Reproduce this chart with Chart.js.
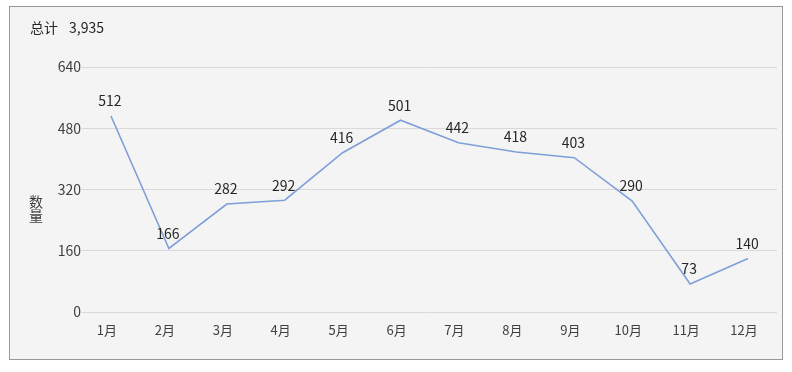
<!DOCTYPE html>
<html lang="zh">
<head>
  <meta charset="UTF-8">
  <title>月度数量</title>
  <script src="https://cdn.jsdelivr.net/npm/chart.js"></script>
  <style>
    body {
      margin: 0;
      background: #ffffff;
      font-family: 'Noto Sans CJK SC', 'Noto Sans', sans-serif;
    }
    .frame {
      position: absolute;
      left: 9px;
      top: 6px;
      width: 772px;
      height: 352px;
      border: 1px solid #9a9a9a;
      background: #f4f4f4;
    }
  </style>
</head>
<body>
  <div class="frame">
    <canvas id="lineChart" width="772" height="352"></canvas>
  </div>

  <script>
    const months = ['1月', '2月', '3月', '4月', '5月', '6月', '7月', '8月', '9月', '10月', '11月', '12月'];
    const counts = [512, 166, 282, 292, 416, 501, 442, 418, 403, 290, 73, 140];
    const yTicks = [0, 160, 320, 480, 640];
    const totalLabel = '总计';
    const yTitle = ['数', '量'];

    const total = counts.reduce((a, b) => a + b, 0);
    const FONT = "'Noto Sans CJK SC', 'Noto Sans', sans-serif";

    // value labels above each point + header text
    const extras = {
      id: 'extras',
      afterDatasetsDraw(chart) {
        const ctx = chart.ctx;
        const meta = chart.getDatasetMeta(0);
        ctx.save();
        ctx.font = '14px ' + FONT;
        ctx.fillStyle = '#262626';
        ctx.textAlign = 'center';
        ctx.textBaseline = 'middle';
        meta.data.forEach((pt, i) => {
          ctx.fillText(String(counts[i]), pt.x - 1, pt.y - 15);
        });

        ctx.textAlign = 'left';
        ctx.fillText(totalLabel, 20, 21);
        ctx.fillText(total.toLocaleString('en-US'), 59, 21);

        ctx.font = '14px ' + FONT;
        ctx.fillStyle = '#404040';
        ctx.textAlign = 'center';
        yTitle.forEach((ch, i) => {
          ctx.fillText(ch, 26, 195 + i * 14);
        });
        ctx.restore();
      }
    };

    new Chart(document.getElementById('lineChart'), {
      type: 'line',
      data: {
        labels: months,
        datasets: [{
          data: counts,
          borderColor: '#7f9fd8',
          borderWidth: 1.6,
          pointRadius: 0,
          tension: 0,
          fill: false
        }]
      },
      options: {
        responsive: false,
        animation: false,
        devicePixelRatio: 1,
        layout: { padding: { left: 0, top: 60, right: 5, bottom: 0 } },
        plugins: {
          legend: { display: false },
          tooltip: { enabled: false }
        },
        scales: {
          x: {
            offset: true,
            grid: { display: false },
            border: { display: false },
            ticks: {
              color: '#404040',
              font: { size: 13, family: FONT },
              padding: 2,
              labelOffset: -4,
              maxRotation: 0
            },
            afterFit(axis) { axis.height = 47; }
          },
          y: {
            min: 0,
            max: 640,
            afterBuildTicks(axis) {
              axis.ticks = yTicks.map(v => ({ value: v }));
            },
            grid: { color: '#d9d9d9', drawTicks: false, lineWidth: 1 },
            border: { display: false },
            ticks: {
              color: '#404040',
              font: { size: 14, family: FONT },
              padding: 1
            },
            afterFit(axis) { axis.width = 72; }
          }
        }
      },
      plugins: [extras]
    });
  </script>
</body>
</html>
